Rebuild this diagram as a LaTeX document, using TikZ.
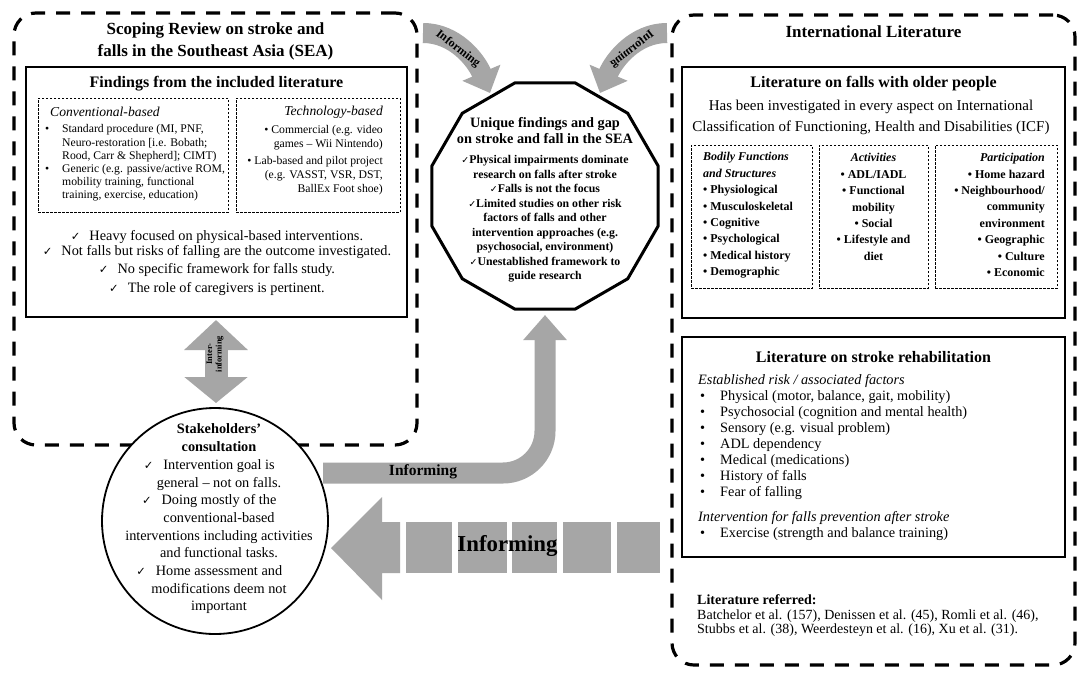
\documentclass[tikz,border=0pt]{standalone}
\usepackage{fontspec}
\setmainfont{Liberation Serif}
\newfontfamily\ckfont{DejaVu Sans}[Scale=0.8]
\usetikzlibrary{arrows.meta,shapes.geometric}
\definecolor{arrgray}{RGB}{166,166,166}
\newcommand{\fsz}[2]{\fontsize{#1}{#2}\selectfont}
\newcommand{\ck}{{\ckfont ✓}}
\newcommand{\mybul}{\makebox[17pt][l]{\textbullet}}
\newcommand{\myind}{\hspace*{17pt}}
\newcommand{\sbul}{\hspace*{2pt}\makebox[20pt][l]{\textbullet}}
\begin{document}
\begin{tikzpicture}[x=1pt,y=-1pt,
  dashbox/.style={draw, line width=3.2, dash pattern=on 14pt off 11pt, rounded corners=22, inner sep=0},
  solidbox/.style={draw, line width=2.2, inner sep=0},
  dotbox/.style={draw, line width=1, dash pattern=on 2.5pt off 1.5pt, inner sep=0},
  txt/.style={inner sep=0, align=center},
  gline/.style={draw=arrgray, color=arrgray},
  gfill/.style={fill=arrgray, draw=none}]
\useasboundingbox[fill=white] (0,0) rectangle (1084,678);

% ---------- left dashed group ----------
\node[dashbox, minimum width=403, minimum height=432] (left) at (215.5,229) {};
\node[txt, font=\fsz{17}{22}\bfseries] (ltitle) at (215.5,41) {Scoping Review on stroke and\\falls in the Southeast Asia (SEA)};
\node[solidbox, minimum width=381, minimum height=250] (find) at (216.5,192) {};
\node[txt, font=\fsz{16}{19}\bfseries] (findt) at (216.5,84) {Findings from the included literature};
\node[dotbox, minimum width=190, minimum height=114] (conv) at (133,155) {};
\node[dotbox, minimum width=164, minimum height=114] (tech) at (318,155) {};
\node[txt, anchor=west, font=\fsz{13.6}{16}\itshape] (convt) at (50,112) {Conventional-based};
\node[txt, anchor=west, align=left, font=\fsz{11.7}{13.2}] (convl) at (45,163)
 {\mybul Standard procedure (MI, PNF,\\\myind Neuro-restoration [i.e. Bobath;\\\myind Rood, Carr \& Shepherd]; CIMT)\\\mybul Generic (e.g. passive/active ROM,\\\myind mobility training, functional\\\myind training, exercise, education)};
\node[txt, anchor=east, font=\fsz{13.6}{16}\itshape] (techt) at (383,112) {Technology-based};
\node[txt, anchor=east, align=right, font=\fsz{11.7}{14}] (techl) at (383,160.5)
 {\textbullet\ Commercial (e.g. video\\games – Wii Nintendo)\\[3pt]\textbullet\ Lab-based and pilot project\\(e.g. VASST, VSR, DST,\\BallEx Foot shoe)};
\node[txt, font=\fsz{14.3}{17}] (c1) at (217,237) {\ck\hspace{9pt}Heavy focused on physical-based interventions.};
\node[txt, font=\fsz{14.3}{17}] (c2) at (217,252) {\ck\hspace{9pt}Not falls but risks of falling are the outcome investigated.};
\node[txt, font=\fsz{14.3}{17}] (c3) at (217,270) {\ck\hspace{9pt}No specific framework for falls study.};
\node[txt, font=\fsz{14.3}{17}] (c4) at (217,289) {\ck\hspace{9pt}The role of caregivers is pertinent.};

% ---------- inter-informing arrow ----------
\coordinate (ia) at (216,320);
\coordinate (ib) at (216,403);
\draw[gline, line width=23, {Triangle[width=62pt,length=30pt]}-{Triangle[width=62pt,length=26pt]}] (ia) -- (ib);
\node[txt, rotate=90, font=\fsz{8.5}{9.5}\bfseries] (iat) at (215,354) {Inter-\\informing};

% ---------- stakeholders circle ----------
\node[circle, draw, line width=1.8, fill=white, minimum size=226, inner sep=0] (stake) at (215,521) {};
\node[txt, font=\fsz{14.3}{17.7}] (staket) at (219,519)
 {\textbf{Stakeholders'}\\\textbf{consultation}\\\llap{\ck\hspace{10pt}}Intervention goal is\\general – not on falls.\\\llap{\ck\hspace{10pt}}Doing mostly of the\\conventional-based\\interventions including activities\\and functional tasks.\\\llap{\ck\hspace{10pt}}Home assessment and\\modifications deem not\\important};

% ---------- octagon (12-gon) ----------
\node[regular polygon, regular polygon sides=12, draw, line width=3, fill=white, minimum size=234, inner sep=0] (oct) at (545,196) {};
\node[txt, font=\fsz{14.3}{16}\bfseries] (octt) at (545,131) {Unique findings and gap\\on stroke and fall in the SEA};
\node[txt, font=\fsz{11.8}{14.5}\bfseries] (octl) at (545,219)
 {\ck Physical impairments dominate\\research on falls after stroke\\\ck Falls is not the focus\\\ck Limited studies on other risk\\factors of falls and other\\intervention approaches (e.g.\\psychosocial, environment)\\\ck Unestablished framework to\\guide research};

% ---------- top curved arrows ----------
\coordinate (tlA) at (423,33);
\coordinate (tipA) at (490,93);
\coordinate (tlB) at (667,33);
\coordinate (tipB) at (600,93);
\draw[gline, line width=20, -{Triangle[width=40pt,length=22pt]}] (tlA) .. controls (455,33) and (476,60) .. (tipA);
\draw[gline, line width=20, -{Triangle[width=40pt,length=22pt]}] (tlB) .. controls (635,33) and (614,60) .. (tipB);
\node[txt, rotate=-38, font=\fsz{12}{14}\bfseries] (tinfA) at (458,49) {Informing};
\node[txt, rotate=38, xscale=-1, font=\fsz{12}{14}\bfseries] (tinfB) at (632,49) {Informing};

% ---------- L-shaped arrow to octagon ----------
\coordinate (Ltail) at (323,473);
\coordinate (Ltip) at (545,315);
\draw[gline, line width=21, rounded corners=42, -{Triangle[width=42pt,length=25pt]}] (Ltail) -| (Ltip);
\node[txt, font=\fsz{15.5}{18}\bfseries] (linf) at (423,472) {Informing};

% ---------- big block arrow ----------
\coordinate (btip) at (331,548);
\fill[gfill] (btip) -- (382,497) -- (382,522) -- (400,522) -- (400,573) -- (382,573) -- (382,600) -- cycle;
\foreach \a/\b in {406/452,458/507,512/557,563/611,617/660}
  \fill[gfill] (\a,522) rectangle (\b,573);
\node[txt, font=\fsz{22.8}{26}\bfseries] (binf) at (507.5,546) {Informing};

% ---------- right dashed group ----------
\node[dashbox, minimum width=403, minimum height=650] (right) at (873.5,340) {};
\node[txt, font=\fsz{17}{20}\bfseries] (rtitle) at (873.5,32) {International Literature};
\node[solidbox, minimum width=383, minimum height=251] (falls) at (873.5,192.5) {};
\node[txt, font=\fsz{16}{19}\bfseries] (fallst) at (873.5,84) {Literature on falls with older people};
\node[txt, font=\fsz{15}{21}] (fallsp) at (871,117.5) {Has been investigated in every aspect on International\\Classification of Functioning, Health and Disabilities (ICF)};
\node[dotbox, minimum width=121, minimum height=143] (icf1) at (751.5,216.5) {};
\node[dotbox, minimum width=109, minimum height=143] (icf2) at (873.5,216.5) {};
\node[dotbox, minimum width=122, minimum height=143] (icf3) at (996,216.5) {};
\node[txt, anchor=west, align=left, font=\fsz{12}{16.4}\bfseries] (icf1t) at (703,215.5)
 {{\itshape Bodily Functions}\\{\itshape and Structures}\\\textbullet\ Physiological\\\textbullet\ Musculoskeletal\\\textbullet\ Cognitive\\\textbullet\ Psychological\\\textbullet\ Medical history\\\textbullet\ Demographic};
\node[txt, font=\fsz{12}{16.4}\bfseries] (icf2t) at (873.5,207)
 {{\itshape Activities}\\\textbullet\ ADL/IADL\\\textbullet\ Functional\\mobility\\\textbullet\ Social\\\textbullet\ Lifestyle and\\diet};
\node[txt, anchor=east, align=right, font=\fsz{12}{16.4}\bfseries] (icf3t) at (1045,215)
 {{\itshape Participation}\\\textbullet\ Home hazard\\\textbullet\ Neighbourhood/\\community\\environment\\\textbullet\ Geographic\\\textbullet\ Culture\\\textbullet\ Economic};

\node[solidbox, minimum width=383, minimum height=220] (rehab) at (873.5,447) {};
\node[txt, font=\fsz{16}{19}\bfseries] (rehabt) at (873.5,357) {Literature on stroke rehabilitation};
\node[txt, anchor=west, align=left, font=\fsz{14.3}{16}] (rehabl) at (698,457)
 {{\itshape Established risk / associated factors}\\
  \sbul Physical (motor, balance, gait, mobility)\\
  \sbul Psychosocial (cognition and mental health)\\
  \sbul Sensory (e.g. visual problem)\\
  \sbul ADL dependency\\
  \sbul Medical (medications)\\
  \sbul History of falls\\
  \sbul Fear of falling\\[9pt]
  {\itshape Intervention for falls prevention after stroke}\\
  \sbul Exercise (strength and balance training)};
\node[txt, anchor=west, align=left, font=\fsz{14}{14.5}] (refs) at (697,616)
 {\textbf{Literature referred:}\\Batchelor et al. (157), Denissen et al. (45), Romli et al. (46),\\Stubbs et al. (38), Weerdesteyn et al. (16), Xu et al. (31).};
\end{tikzpicture}
\end{document}
